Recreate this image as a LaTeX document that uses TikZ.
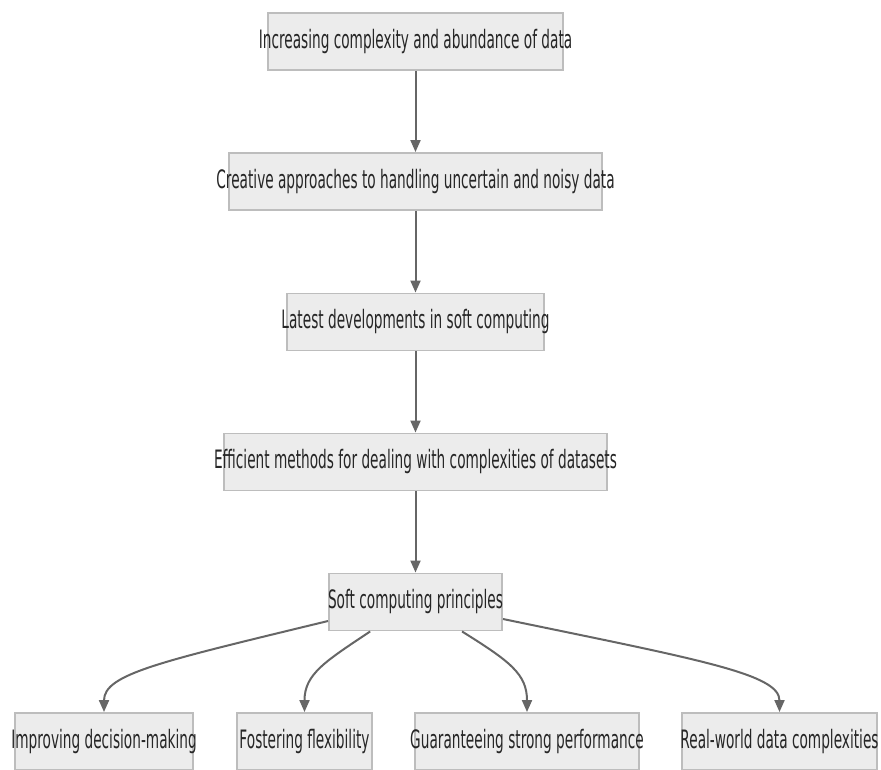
\documentclass[tikz,border=0pt]{standalone}
\usepackage{fontspec}
\setmainfont[FakeStretch=0.54]{DejaVu Sans}
\usetikzlibrary{arrows.meta}
\definecolor{boxfill}{HTML}{ECECEC}
\definecolor{boxline}{HTML}{BDBDBD}
\definecolor{arr}{HTML}{666666}
\definecolor{txt}{HTML}{262626}
\newcommand{\fcz}[1]{\makebox[0pt]{#1}}
\begin{document}
\begin{tikzpicture}[x=0.75pt,y=-0.75pt,
  fcbox/.style={draw=boxline, line width=1.2pt, fill=boxfill, inner sep=0pt,
    minimum height=43pt, text=txt, font=\fontsize{19pt}{22pt}\selectfont},
  conn/.style={draw=arr, line width=1.5pt, -{Triangle[width=7.5pt,length=9pt]}}]
\useasboundingbox (0,0) rectangle (881,770);
\node[fcbox, minimum width=221pt] (b1) at (415.5,41.5) {\fcz{Increasing complexity and abundance of data}};
\node[fcbox, minimum width=280pt] (b2) at (415.5,181.5) {\fcz{Creative approaches to handling uncertain and noisy data}};
\node[fcbox, minimum width=193pt] (b3) at (415.5,322) {\fcz{Latest developments in soft computing}};
\node[fcbox, minimum width=287pt] (b4) at (415.5,462) {\fcz{Efficient methods for dealing with complexities of datasets}};
\node[fcbox, minimum width=130pt] (b5) at (415.5,602) {\fcz{Soft computing principles}};
\node[fcbox, minimum width=133.5pt] (b6) at (104,741.5) {\fcz{Improving decision-making}};
\node[fcbox, minimum width=101pt] (b7) at (304.5,741.5) {\fcz{Fostering flexibility}};
\node[fcbox, minimum width=168pt] (b8) at (527,741.5) {\fcz{Guaranteeing strong performance}};
\node[fcbox, minimum width=146pt] (b9) at (779.5,741.5) {\fcz{Real-world data complexities}};
\draw[conn] (b1) -- (b2);
\draw[conn] (b2) -- (b3);
\draw[conn] (b3) -- (b4);
\draw[conn] (b4) -- (b5);
\draw[conn] ([yshift=-14.25pt]b5.west) .. controls +(-169,41) and +(0,-38) .. (b6.north);
\draw[conn] ([xshift=-34pt]b5.south) .. controls +(-45,30) and +(0,-38) .. (b7.north);
\draw[conn] ([xshift=34.9pt]b5.south) .. controls +(48,30) and +(0,-38) .. (b8.north);
\draw[conn] ([yshift=-12.75pt]b5.east) .. controls +(198,41) and +(0,-38) .. (b9.north);
\end{tikzpicture}
\end{document}
